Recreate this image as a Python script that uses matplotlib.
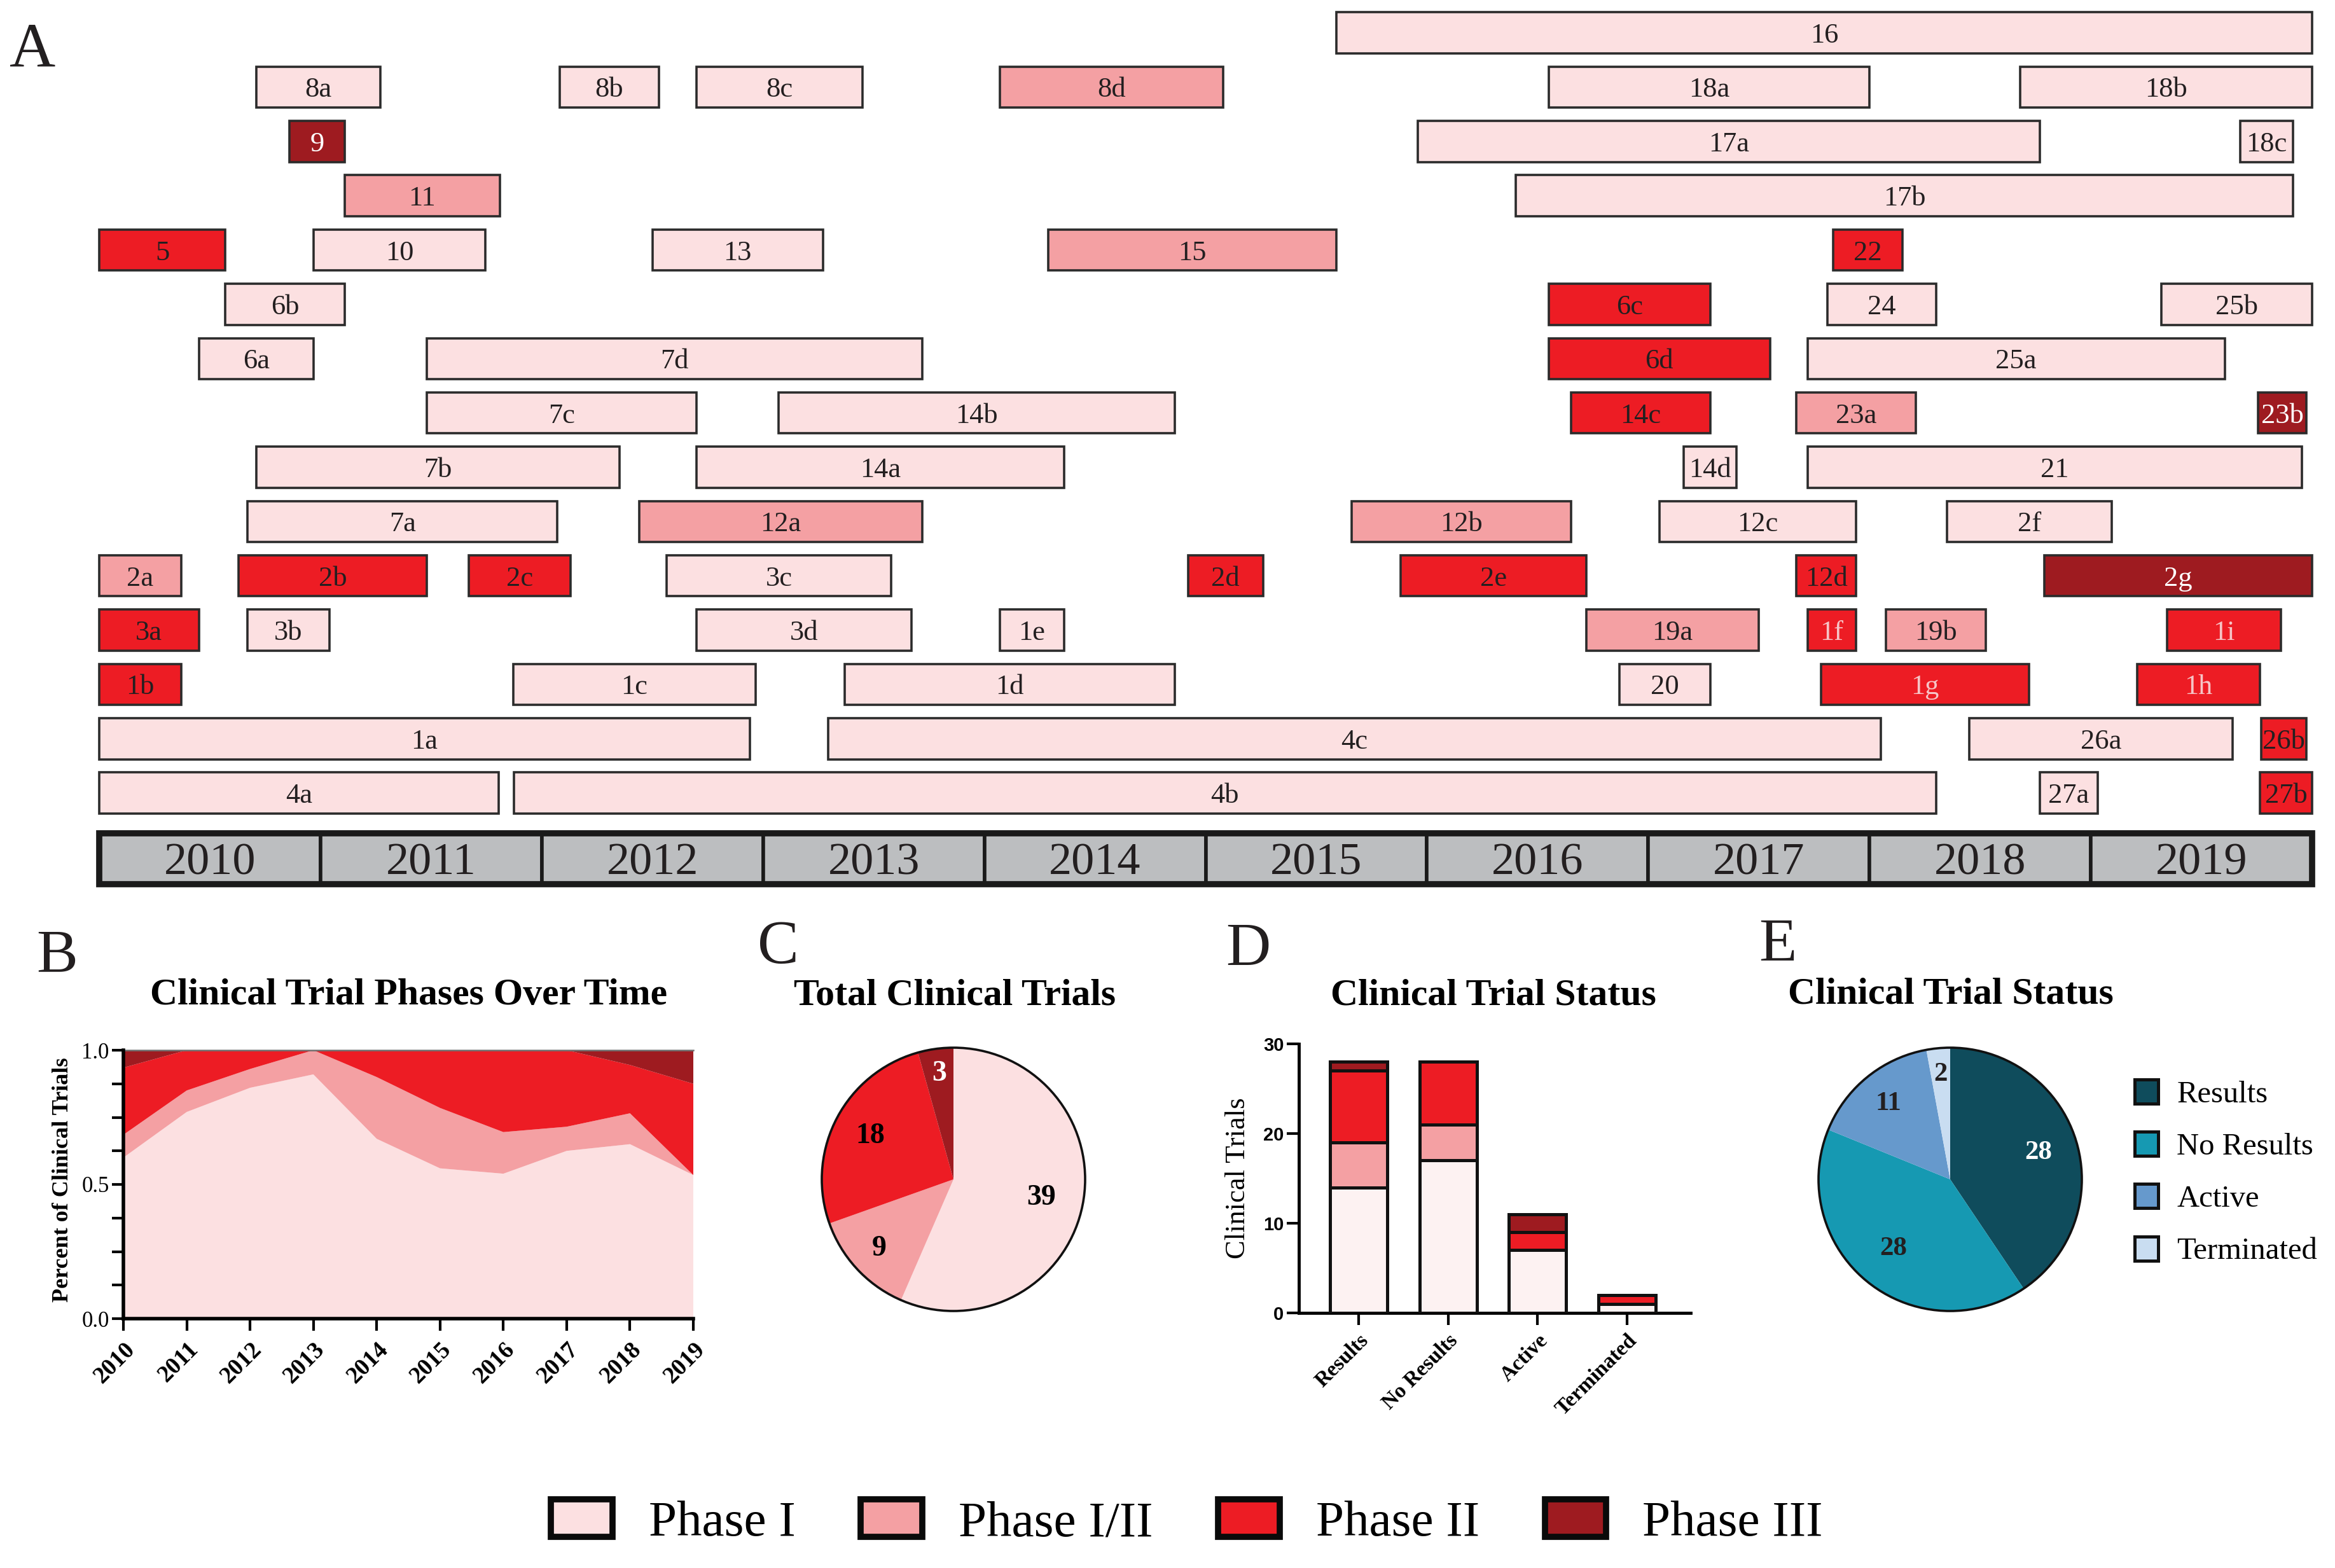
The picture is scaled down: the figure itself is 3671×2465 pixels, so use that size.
import matplotlib
matplotlib.use('Agg')
import matplotlib.pyplot as plt
from matplotlib.patches import Rectangle, Patch, Circle
import numpy as np

W, H = 3671, 2465
DPI = 100
plt.rcParams['font.family'] = ['Liberation Serif', 'DejaVu Serif']

# ---------------- data ----------------
phase_names = ['Phase I', 'Phase I/II', 'Phase II', 'Phase III']
phase_colors = ['#FCE0E1', '#F4A0A3', '#ED1C24', '#9E1B20']

trial_labels = ['16',
                '8a', '8b', '8c', '8d', '18a', '18b',
                '9', '17a', '18c',
                '11', '17b',
                '5', '10', '13', '15', '22',
                '6b', '6c', '24', '25b',
                '6a', '7d', '6d', '25a',
                '7c', '14b', '14c', '23a', '23b',
                '7b', '14a', '14d', '21',
                '7a', '12a', '12b', '12c', '2f',
                '2a', '2b', '2c', '3c', '2d', '2e', '12d', '2g',
                '3a', '3b', '3d', '1e', '19a', '1f', '19b', '1i',
                '1b', '1c', '1d', '20', '1g', '1h',
                '1a', '4c', '26a', '26b',
                '4a', '4b', '27a', '27b']
trial_rows = [1,
              2, 2, 2, 2, 2, 2,
              3, 3, 3,
              4, 4,
              5, 5, 5, 5, 5,
              6, 6, 6, 6,
              7, 7, 7, 7,
              8, 8, 8, 8, 8,
              9, 9, 9, 9,
              10, 10, 10, 10, 10,
              11, 11, 11, 11, 11, 11, 11, 11,
              12, 12, 12, 12, 12, 12, 12, 12,
              13, 13, 13, 13, 13, 13,
              14, 14, 14, 14,
              15, 15, 15, 15]
trial_start = [2015.59,
               2010.71, 2012.08, 2012.70, 2014.07, 2016.55, 2018.68,
               2010.86, 2015.96, 2019.675,
               2011.11, 2016.40,
               2010.00, 2010.97, 2012.50, 2014.29, 2017.835,
               2010.57, 2016.55, 2017.81, 2019.32,
               2010.45, 2011.48, 2016.55, 2017.72,
               2011.48, 2013.07, 2016.65, 2017.67, 2019.755,
               2010.71, 2012.70, 2017.16, 2017.72,
               2010.67, 2012.44, 2015.66, 2017.05, 2018.35,
               2010.00, 2010.63, 2011.67, 2012.565, 2014.92, 2015.88, 2017.67, 2018.79,
               2010.00, 2010.67, 2012.70, 2014.07, 2016.72, 2017.72, 2018.075, 2019.345,
               2010.00, 2011.87, 2013.37, 2016.87, 2017.78, 2019.21,
               2010.00, 2013.295, 2018.45, 2019.77,
               2010.00, 2011.873, 2018.77, 2019.765]
trial_end = [2020.00,
             2011.27, 2012.53, 2013.45, 2015.08, 2018.00, 2020.00,
             2011.11, 2018.77, 2019.915,
             2011.81, 2019.915,
             2010.57, 2011.745, 2013.27, 2015.59, 2018.15,
             2011.11, 2017.28, 2018.30, 2020.00,
             2010.97, 2013.72, 2017.55, 2019.605,
             2012.70, 2014.86, 2017.28, 2018.21, 2019.975,
             2012.35, 2014.36, 2017.40, 2019.955,
             2012.07, 2013.72, 2016.65, 2017.94, 2019.095,
             2010.37, 2011.48, 2012.13, 2013.58, 2015.26, 2016.72, 2017.94, 2020.00,
             2010.45, 2011.04, 2013.67, 2014.36, 2017.50, 2017.94, 2018.525, 2019.86,
             2010.37, 2012.965, 2014.86, 2017.28, 2018.72, 2019.765,
             2012.94, 2018.05, 2019.64, 2019.975,
             2011.806, 2018.30, 2019.03, 2020.00]
# 0 = Phase I, 1 = Phase I/II, 2 = Phase II, 3 = Phase III
trial_phase = [0,
               0, 0, 0, 1, 0, 0,
               3, 0, 0,
               1, 0,
               2, 0, 0, 1, 2,
               0, 2, 0, 0,
               0, 0, 2, 0,
               0, 0, 2, 1, 3,
               0, 0, 0, 0,
               0, 1, 1, 0, 0,
               1, 2, 2, 0, 2, 2, 2, 3,
               2, 0, 0, 0, 1, 2, 1, 2,
               2, 0, 0, 0, 2, 2,
               0, 0, 0, 2,
               0, 0, 0, 2]

years = [2010, 2011, 2012, 2013, 2014, 2015, 2016, 2017, 2018, 2019]

# Panel B: fraction of trials per phase per year
frac_phase1 = [0.60, 0.77, 0.86, 0.91, 0.67, 0.56, 0.54, 0.625, 0.65, 0.535]
frac_phase12 = [0.085, 0.08, 0.07, 0.09, 0.23, 0.225, 0.155, 0.09, 0.115, 0.0]
frac_phase2 = [0.25, 0.15, 0.07, 0.0, 0.10, 0.215, 0.305, 0.285, 0.18, 0.34]
frac_phase3 = [0.065, 0.0, 0.0, 0.0, 0.0, 0.0, 0.0, 0.0, 0.055, 0.125]

# Panel C
phase_totals = [39, 9, 18, 3]

# Panel D
status_cats = ['Results', 'No Results', 'Active', 'Terminated']
status_phase1 = [14, 17, 7, 1]
status_phase12 = [5, 4, 0, 0]
status_phase2 = [8, 7, 2, 1]
status_phase3 = [1, 0, 2, 0]

# Panel E
status_totals = [28, 28, 11, 2]
status_colors = ['#0F4C5C', '#1699B2', '#6699CC', '#C9DDF1']

# ---------------- figure ----------------
fig = plt.figure(figsize=(W / DPI, H / DPI), dpi=DPI)
fig.patch.set_facecolor('white')


def ax_px(x0, y0, x1, y1):
    return fig.add_axes([x0 / W, 1 - y1 / H, (x1 - x0) / W, (y1 - y0) / H])


def ftext(x, y, s, **kw):
    return fig.text(x / W, 1 - y / H, s, **kw)


TXT = '#231F20'

# ---------------- Panel A ----------------
axA = ax_px(156, 0, 3635, 1406)
axA.set_xlim(2010, 2020)
axA.set_ylim(16.866, 0.396)
axA.axis('off')

light_text = {'1f', '1g', '1h', '1i'}
for lab, r, s, e, p in zip(trial_labels, trial_rows, trial_start, trial_end, trial_phase):
    axA.barh(r, e - s, left=s, height=0.755, color=phase_colors[p],
             edgecolor='#2B2B2B', linewidth=2.6, clip_on=False)
    if p == 3:
        tc = 'white'
    elif lab in light_text:
        tc = '#F6C4C6'
    else:
        tc = TXT
    axA.text((s + e) / 2, r, lab, ha='center', va='center_baseline',
             fontsize=32, color=tc)

year_row = 16.21
axA.barh([year_row] * len(years), [1] * len(years), left=years, height=0.93,
         color='#BCBEC0', edgecolor='#1A1A1A', linewidth=4, clip_on=False)
axA.add_patch(Rectangle((years[0], year_row - 0.465), len(years), 0.93,
                        fill=False, edgecolor='#1A1A1A', linewidth=7, clip_on=False))
for y in years:
    axA.text(y + 0.5, year_row, str(y), ha='center', va='center_baseline',
             fontsize=52, color=TXT)

# ---------------- Panel B ----------------
axB = ax_px(194, 1651, 1090, 2073)
axB.stackplot(years, frac_phase1, frac_phase12, frac_phase2, frac_phase3,
              colors=phase_colors, linewidth=0)
axB.set_xlim(years[0], years[-1])
axB.set_ylim(0, 1)
axB.spines['right'].set_visible(False)
axB.spines['top'].set_linewidth(1.8)
axB.spines['top'].set_color('#707070')
for sp in ['left', 'bottom']:
    axB.spines[sp].set_linewidth(4)
    axB.spines[sp].set_zorder(5)
yt = np.arange(0, 1.0001, 0.125)
axB.set_yticks(yt)
axB.set_yticklabels(['0.0', '', '', '', '0.5', '', '', '', '1.0'])
axB.tick_params(axis='y', length=13, width=3, pad=3, labelsize=25)
axB.set_xticks(years)
axB.set_xticklabels([str(y) for y in years], fontsize=27, fontweight='bold')
axB.tick_params(axis='x', length=14, width=3, pad=8)
plt.setp(axB.get_xticklabels(), rotation=45, ha='right', rotation_mode='anchor')
ftext(99, 1855, 'Percent of Clinical Trials', rotation=90, ha='center', va='center',
      fontsize=26, fontweight='bold')

# ---------------- Panel C ----------------
R = 207
axC = ax_px(1499 - R, 1854 - R, 1499 + R, 1854 + R)
wedges, _ = axC.pie(phase_totals, colors=phase_colors, startangle=90, counterclock=False,
                    radius=1, wedgeprops=dict(linewidth=0))
axC.add_patch(Circle((0, 0), 1, fill=False, edgecolor='#111111', linewidth=2.6, clip_on=False))
axC.set_xlim(-1, 1)
axC.set_ylim(-1, 1)
axC.set_aspect('equal')
c_rad = [0.68, 0.77, 0.71, 0.81]
c_col = ['black', 'black', 'black', 'white']
for w, n, rr, cc in zip(wedges, phase_totals, c_rad, c_col):
    a = np.deg2rad((w.theta1 + w.theta2) / 2)
    axC.text(rr * np.cos(a), rr * np.sin(a), str(n), ha='center', va='center',
             fontsize=33, fontweight='bold', color=cc)

# ---------------- Panel D ----------------
axD = ax_px(2042, 1641, 2658, 2064)
xs = np.arange(len(status_cats))
d_colors = ['#FDF2F2', phase_colors[1], phase_colors[2], phase_colors[3]]
bottom = np.zeros(len(status_cats))
for vals, col in zip([status_phase1, status_phase12, status_phase2, status_phase3], d_colors):
    vals = np.array(vals, dtype=float)
    mask = vals > 0
    axD.bar(xs[mask], vals[mask], bottom=bottom[mask], width=0.64, color=col,
            edgecolor='#111111', linewidth=3.6, zorder=3)
    bottom += vals
axD.set_xlim(-0.668, 3.71)
axD.set_ylim(0, 30)
for sp in ['right', 'top']:
    axD.spines[sp].set_visible(False)
for sp in ['left', 'bottom']:
    axD.spines[sp].set_linewidth(3.5)
axD.set_yticks([0, 10, 20, 30])
axD.set_yticklabels(['0', '10', '20', '30'], fontsize=21, fontweight='bold',
                    family='Liberation Sans')
axD.tick_params(axis='y', length=14, width=3, pad=3)
axD.set_xticks(xs)
axD.set_xticklabels(status_cats, fontsize=24, fontweight='bold')
axD.tick_params(axis='x', length=14, width=3, pad=6)
plt.setp(axD.get_xticklabels(), rotation=45, ha='right', rotation_mode='anchor')
ftext(1946, 1852, 'Clinical Trials', rotation=90, ha='center', va='center', fontsize=32)

# ---------------- Panel E ----------------
axE = ax_px(3066 - R, 1854 - R, 3066 + R, 1854 + R)
wedgesE, _ = axE.pie(status_totals, colors=status_colors, startangle=90, counterclock=False,
                     radius=1, wedgeprops=dict(linewidth=0))
axE.add_patch(Circle((0, 0), 1, fill=False, edgecolor='#111111', linewidth=2.6, clip_on=False))
axE.set_xlim(-1, 1)
axE.set_ylim(-1, 1)
axE.set_aspect('equal')
e_rad = [0.70, 0.68, 0.74, 0.80]
e_col = ['white', TXT, TXT, TXT]
for w, n, rr, cc in zip(wedgesE, status_totals, e_rad, e_col):
    a = np.deg2rad((w.theta1 + w.theta2) / 2)
    axE.text(rr * np.cos(a), rr * np.sin(a), str(n), ha='center', va='center',
             fontsize=31, fontweight='bold', color=cc)

e_handles = [Patch(facecolor=c, edgecolor='#111111', linewidth=3.6) for c in status_colors]
fig.legend(e_handles, status_cats, loc='upper left',
           bbox_to_anchor=(3356 / W, 1 - 1697 / H), frameon=False, fontsize=35,
           handlelength=0.76, handleheight=0.82, handletextpad=0.6, labelspacing=0.75,
           borderpad=0, borderaxespad=0)

# ---------------- panel letters and titles ----------------
ftext(15, 105, 'A', fontsize=72, ha='left', va='baseline', color=TXT)
ftext(57, 1528, 'B', fontsize=70, ha='left', va='baseline', color=TXT)
ftext(1191, 1514, 'C', fontsize=70, ha='left', va='baseline', color=TXT)
ftext(1927, 1518, 'D', fontsize=70, ha='left', va='baseline', color=TXT)
ftext(2765, 1511, 'E', fontsize=70, ha='left', va='baseline', color=TXT)

ftext(643, 1579, 'Clinical Trial Phases Over Time', fontsize=43, fontweight='bold',
      ha='center', va='baseline')
ftext(1501, 1579, 'Total Clinical Trials', fontsize=43, fontweight='bold',
      ha='center', va='baseline')
ftext(2348, 1579, 'Clinical Trial Status', fontsize=43, fontweight='bold',
      ha='center', va='baseline')
ftext(3067, 1578, 'Clinical Trial Status', fontsize=43, fontweight='bold',
      ha='center', va='baseline')

# ---------------- bottom legend ----------------
p_handles = [Patch(facecolor=c, edgecolor='#0A0A0A', linewidth=7) for c in phase_colors]
fig.legend(p_handles, phase_names, loc='center', ncol=4,
           bbox_to_anchor=(1866 / W, 1 - 2394 / H), frameon=False, fontsize=57,
           handlelength=1.22, handleheight=0.78, handletextpad=0.72, columnspacing=1.3,
           borderpad=0, borderaxespad=0)

fig.savefig('out.png', dpi=DPI, facecolor='white')
